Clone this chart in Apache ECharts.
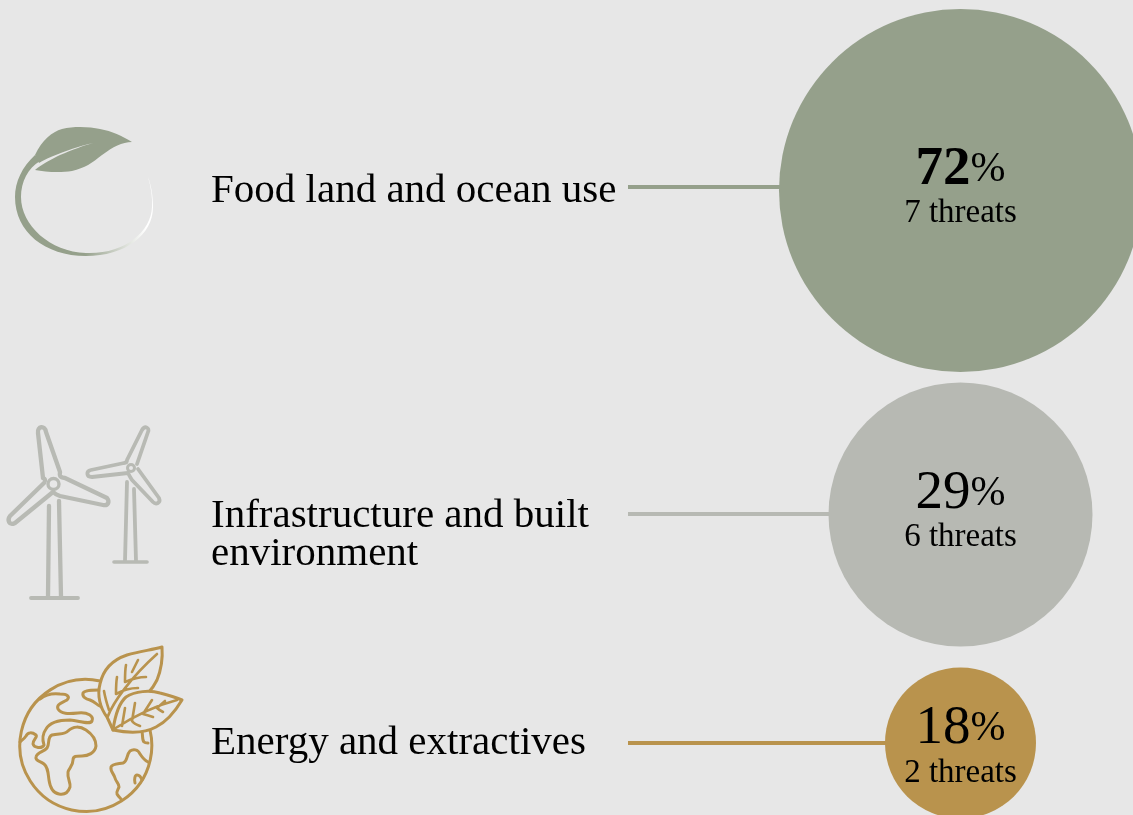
<!DOCTYPE html>
<html>
<head>
<meta charset="utf-8">
<style>html,body{margin:0;padding:0;background:#e7e7e7}#c{width:1133px;height:815px}</style>
<script src="https://cdn.jsdelivr.net/npm/echarts@6/dist/echarts.min.js"></script>
</head>
<body>
<div id="c"></div>
<script>
// Data
const categories = ['Food land and ocean use', 'Infrastructure and built\nenvironment', 'Energy and extractives'];
const shares = [72, 29, 18];
const threats = [7, 6, 2];

// Layout and style
const palette = ['#95a08b', '#b7b9b3', '#b9934d'];
const bubbleDiameter = [363, 264, 151];
const bubbleY = [190.5, 514.5, 743];
const connectorY = [187, 514, 743];
const textY = [191, 535, 743];
const labelOffset = [-3, -3, 4];
const bubbleX = 960.5, connectorStartX = 628, textX = 211;
const FONT = '"Liberation Serif", serif';
const BG = '#e7e7e7';
const labelRich = [
  {n: {fontSize: 55, fontWeight: 'bold'}, p: {fontSize: 42}, t: {fontSize: 33}},
  {n: {fontSize: 55}, p: {fontSize: 42}, t: {fontSize: 33}},
  {n: {fontSize: 55}, p: {fontSize: 42}, t: {fontSize: 33}}
];

const connectors = categories.map((c, i) => ({
  type: 'line', silent: true, symbol: 'none', z: 1,
  data: [[connectorStartX, connectorY[i]], [bubbleX, connectorY[i]]],
  lineStyle: {color: palette[i], width: 4}
}));

const bubbles = {
  type: 'scatter', silent: true, z: 2,
  data: categories.map((c, i) => ({
    value: [bubbleX, bubbleY[i]],
    symbolSize: bubbleDiameter[i],
    itemStyle: {color: palette[i], opacity: 1},
    label: {
      show: true, position: 'inside', align: 'center', verticalAlign: 'middle',
      offset: [0, labelOffset[i]],
      formatter: `{n|${shares[i]}}{p|%}\n{t|${threats[i]} threats}`,
      rich: Object.fromEntries(Object.entries(labelRich[i]).map(([k, v]) => [k, {
        ...v, fontFamily: FONT, color: '#000', lineHeight: k === 't' ? 36 : 52, align: 'center'
      }]))
    }
  }))
};

const names = {
  type: 'scatter', silent: true, z: 3, symbolSize: 0,
  itemStyle: {opacity: 1},
  data: categories.map((c, i) => ({
    value: [textX, textY[i]],
    label: {
      show: true, position: 'right', distance: 0, formatter: c,
      fontFamily: FONT, fontSize: 41, lineHeight: 38, color: '#000', align: 'left'
    }
  }))
};

// Icons
const leafCol = '#95a08b', windCol = '#b8bab4', goldCol = '#b9934d';
const stroke = (pathData, color, w, fill) => ({
  type: 'path',
  shape: {pathData},
  style: {fill: fill || 'none', stroke: color, lineWidth: w, lineCap: 'round', lineJoin: 'round'}
});
const icons = [
  // Leaf and ring
  {type: 'path',
   shape: {pathData: 'M35 155 C22 167 15 182 15 197 C15 232 45 256 86 256 C125 256 153 235 153 207 C153 195 151 185 148 177 C151 187 152.5 197 152 207 C151 232 124 254.5 86 253 C50 252 21 225 21 197 C21 182 28 168 40 161 Z'},
   style: {stroke: 'none', fill: {type: 'linear', x: 15, y: 0, x2: 153, y2: 0, global: true,
     colorStops: [{offset: 0, color: leafCol}, {offset: 0.5, color: leafCol}, {offset: 0.95, color: '#ffffff'}, {offset: 1, color: '#ffffff'}]}}},
  {type: 'path',
   shape: {pathData: 'M35 155 C42 140 52 132 62 129 C75 126 90 127 100 129 C112 131 122 136 132 142 C122 142 113 147 102 155 C92 163 85 168 72 171 C60 173 45 172 35 170 C42 164 52 159 60 155 C72 150 85 145 93 143 C80 146 65 151 52 156.5 C46 159 42 161 39 163 Z'},
   style: {fill: leafCol, stroke: 'none'}},
  // Large turbine
  stroke('M43 478 L38 433 C37 426 45 425 46 432 L60 472 M65 478 C58 477 60 474 60 472 M65 478 L107 498 C110 502 108 506 103 505 L60 496 C57 495 55 494 53 492 L15 523 C9 526 7 520 10 516 L44 483 C46 480 45 479 43 478', windCol, 4.3),
  stroke('M59 484 A5.5 5.5 0 1 1 48 484 A5.5 5.5 0 1 1 59 484', windCol, 3.4),
  stroke('M49 506 L48 597 M59 501 L61 597', windCol, 4.3),
  stroke('M31 598 L78 598', windCol, 3.8),
  // Small turbine
  stroke('M127 460 L142 430 C145 425 150 428 148 432 L137 464 M138 469 L159 498 C161 503 156 505 153 502 L132 480 C130 477 129 475 128 473 L92 477 C86 477 86 471 91 470 L124 463 C126 463 127 462 127 460', windCol, 3.8),
  stroke('M134.5 468 A3.5 3.5 0 1 1 127.5 468 A3.5 3.5 0 1 1 134.5 468', windCol, 3),
  stroke('M127 482 L125 561 M134 489 L136 561', windCol, 3.8),
  stroke('M114 562 L147 562', windCol, 3.6),
  // Globe
  stroke('M100 681 A66 66 0 1 0 150 730', goldCol, 3),
  stroke('M40 699 C45 695 52 693 60 694 C68 694 70 697 67 700 C62 703 56 704 58 709 C61 714 68 714 78 713 C88 712 94 716 92 721 C90 725 80 721 70 720 C58 720 50 722 46 729 C41 736 43 742 44 745 C42 749 34 748 33 744 C33 739 38 737 36 735 C32 732 28 732 26 736 C24 739 22 740 20 742', goldCol, 3),
  stroke('M36 757 C37 752 44 752 47 748 C50 744 47 737 52 735 C59 733 64 735 68 731 C73 726 80 726 86 730 C92 734 96 740 96 746 C95 753 88 756 82 756 C76 756 73 756 73 760 C73 766 69 768 68 772 C67 778 71 783 70 787 C68 793 64 795 59 794 C53 793 50 787 49 780 C48 773 48 767 44 764 C40 761 35 761 36 757 Z', goldCol, 3),
  stroke('M99 690 C92 690 85 690 83 693 C82 697 86 699 90 700 C95 702 97 705 100 706 C102 708 104 709 105 710', goldCol, 3),
  stroke('M148 762 C144 760 142 757 140 754 C138 749 133 749 130 751 C126 755 128 761 123 763 C118 764 112 764 111 767 C110 771 114 774 115 778 C116 782 119 783 119 787 C118 790 116 792 117 794 C118 796 120 798 121 799', goldCol, 3),
  stroke('M135 783 C134 779 135 775 137 775 C140 775 141 777 142 780', goldCol, 3),
  stroke('M142 732 C143 736 142 740 144 742 C145 743 147 743 148 743', goldCol, 3),
  // Leaves on globe
  stroke('M107 717 C100 708 97 695 100 684 C103 670 112 660 127 655 C140 651 152 650 162 647 C163 660 161 670 157 680 C154 686 151 690 148 693 L125 700 L113 730 Z', goldCol, 3, BG),
  stroke('M108 716 C113 703 130 678 157 654 M132 672 L138 660 M125 682 C125 676 125 670 126 665 M125 682 C132 679 139 677 146 677 M116 694 C116 688 116 683 117 677 M116 694 C123 690 131 688 138 688 M109 710 C107 704 105 697 104 691', goldCol, 2.6),
  stroke('M113 730 C115 716 118 704 126 697 C135 691 150 690 160 693 C168 695 175 697 182 700 C176 710 168 721 156 727 C145 733 128 733 113 730 Z', goldCol, 3, BG),
  stroke('M114 729 C128 720 150 707 177 700 M165 701 L157 708 C159 710 161 711 163 712 M152 700 L143 714 C147 715 150 716 153 717 M135 703 L132 721 C134 724 137 725 140 726 M125 708 L122 726', goldCol, 2.6)
];

const iconSeries = {
  type: 'custom', coordinateSystem: 'none', silent: true, z: 10, clip: false,
  data: [0],
  renderItem: () => ({type: 'group', children: icons})
};

const chart = echarts.init(document.getElementById('c'), null, {renderer: 'canvas'});
chart.setOption({
  backgroundColor: BG,
  animation: false,
  grid: {left: 0, right: 0, top: 0, bottom: 0},
  xAxis: {type: 'value', min: 0, max: 1133, show: false},
  yAxis: {type: 'value', min: 0, max: 815, inverse: true, show: false},
  series: [...connectors, bubbles, names, iconSeries]
});
</script>
</body>
</html>
